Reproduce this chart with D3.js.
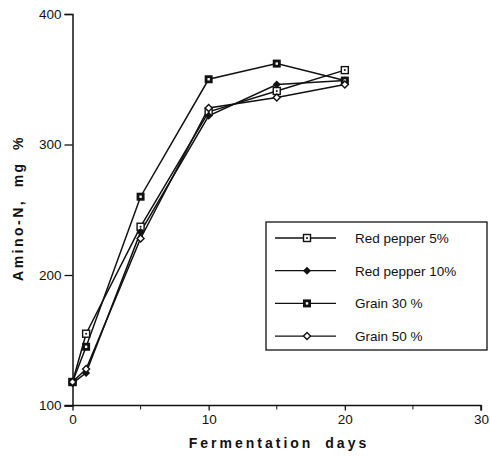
<!DOCTYPE html>
<html>
<head>
<meta charset="utf-8">
<script src="https://cdn.jsdelivr.net/npm/d3@7"></script>
<style>
  body { margin: 0; background: #fff; }
  text { font-family: "Liberation Sans", Arial, sans-serif; fill: #111; }
</style>
</head>
<body>
<div class="chart"></div>
<script>
const days = [0, 1, 5, 10, 15, 20];
const redPepper5 = [118, 155, 237, 325, 341, 357];
const redPepper10 = [117, 125, 233, 322, 346, 349];
const grain30 = [118, 145, 260, 350, 362, 349];
const grain50 = [118, 128, 228, 328, 336, 346];
const seriesNames = ['Red pepper 5%', 'Red pepper 10%', 'Grain 30 %', 'Grain 50 %'];
const xTicks = [0, 10, 20, 30];
const xMinor = [5, 15, 25];
const yTicks = [100, 200, 300, 400];

const w = 490;
const h = 459;

const svg = d3.select('.chart').append('svg').attr('width', w).attr('height', h);

const xScale = d3.scaleLinear().domain([0, 30]).range([72.5, 481]);
const yScale = d3.scaleLinear().domain([100, 400]).range([405.5, 14]);

// axes
const xAxis = svg.append('g').attr('transform', `translate(0, ${yScale(100)})`)
  .call(d3.axisBottom(xScale).tickValues(xTicks).tickSize(5).tickPadding(4).tickFormat(d3.format('d')));
xAxis.append('g').selectAll('line').data(xMinor).enter().append('line')
  .attr('x1', d => xScale(d)).attr('x2', d => xScale(d)).attr('y1', 0).attr('y2', 4)
  .attr('stroke', '#111');
const yAxis = svg.append('g').attr('transform', `translate(${xScale(0)}, 0)`)
  .call(d3.axisLeft(yScale).tickValues(yTicks).tickSize(8).tickPadding(3));
[xAxis, yAxis].forEach(a => {
  a.select('.domain').attr('stroke', '#111').attr('stroke-width', 1.5);
  a.selectAll('.tick line').attr('stroke', '#111').attr('stroke-width', 1.3);
  a.selectAll('text').attr('font-size', 13.5).attr('font-family', '"Liberation Sans", Arial, sans-serif').attr('fill', '#111');
});
xAxis.select('.domain').attr('d', `M${xScale(0) - 8},0H${xScale(30)}V5`);

svg.append('text').attr('x', 279).attr('y', 448).attr('text-anchor', 'middle')
  .attr('font-size', 14).attr('font-weight', 'bold').style('letter-spacing', '3px').style('word-spacing', '5px')
  .text('Fermentation days');
svg.append('text').attr('transform', 'translate(23, 208) rotate(-90)').attr('text-anchor', 'middle')
  .attr('font-size', 14).attr('font-weight', 'bold').style('letter-spacing', '2.5px').style('word-spacing', '5px')
  .text('Amino-N, mg %');

const allSeries = [redPepper5, redPepper10, grain30, grain50];
const line = d3.line().x((d, i) => xScale(days[i])).y(d => yScale(d));

function drawMarker(g, k) {
  if (k === 0) {
    g.append('rect').attr('x', -3.5).attr('y', -3.5).attr('width', 7).attr('height', 7)
      .attr('fill', '#fff').attr('stroke', '#111').attr('stroke-width', 1.4);
    g.append('circle').attr('r', 1).attr('fill', '#111');
  } else if (k === 1) {
    g.append('path').attr('d', 'M0,-4L4,0L0,4L-4,0Z').attr('fill', '#111');
  } else if (k === 2) {
    g.append('rect').attr('x', -4).attr('y', -4).attr('width', 8).attr('height', 8).attr('fill', '#111');
    g.append('rect').attr('x', -1.2).attr('y', -1.2).attr('width', 2.4).attr('height', 2.4).attr('fill', '#fff');
  } else {
    g.append('path').attr('d', 'M0,-3.5L3.5,0L0,3.5L-3.5,0Z')
      .attr('fill', '#fff').attr('stroke', '#111').attr('stroke-width', 1.4);
  }
}

allSeries.forEach((s, k) => {
  svg.append('path').datum(s).attr('d', line).attr('fill', 'none')
    .attr('stroke', '#111').attr('stroke-width', 1.5);
});
allSeries.forEach((s, k) => {
  s.forEach((v, i) => {
    const g = svg.append('g').attr('transform', `translate(${xScale(days[i])}, ${yScale(v)})`);
    drawMarker(g, k);
  });
});

// legend
const legend = svg.append('g');
legend.append('rect').attr('x', 266).attr('y', 222).attr('width', 221).attr('height', 128)
  .attr('fill', '#fff').attr('stroke', '#111').attr('stroke-width', 1.3);
seriesNames.forEach((name, k) => {
  const y = 238 + k * 32.7;
  legend.append('line').attr('x1', 275).attr('x2', 336).attr('y1', y).attr('y2', y)
    .attr('stroke', '#111').attr('stroke-width', 1.3);
  drawMarker(legend.append('g').attr('transform', `translate(307, ${y})`), k);
  legend.append('text').attr('x', 355).attr('y', y + 5).attr('font-size', 13.5).text(name);
});
</script>
</body>
</html>
